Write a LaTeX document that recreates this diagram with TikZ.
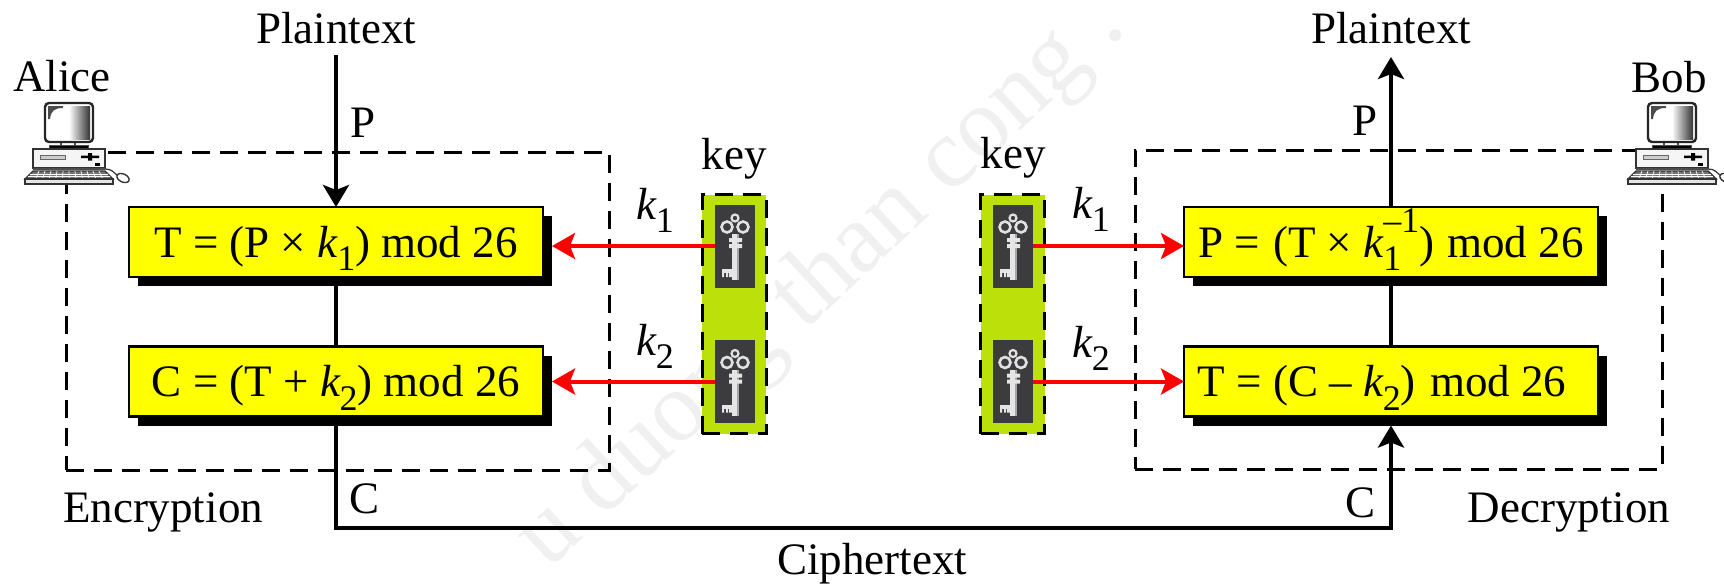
\documentclass[tikz,border=0pt]{standalone}
\usepackage{fontspec}
\setmainfont{Liberation Serif}
\usetikzlibrary{arrows.meta,shadows}
\definecolor{boxyellow}{RGB}{255,255,0}
\definecolor{keygreen}{RGB}{188,224,10}
\definecolor{keydark}{RGB}{60,60,62}
\definecolor{wmgray}{RGB}{240,240,240}
\newcommand{\kk}[1]{\textit{k}\kern-0.02em\raisebox{-0.3em}{\fontsize{18pt}{20pt}\selectfont #1}}
\newcommand{\kinv}{\textit{k}\kern-0.02em\raisebox{-0.3em}{\rlap{\fontsize{18pt}{20pt}\selectfont 1}}\raisebox{0.55em}{\fontsize{18pt}{20pt}\selectfont –1}}
\tikzset{
  lab/.style={font=\fontsize{22.5pt}{26pt}\selectfont,inner sep=0pt,outer sep=0pt,anchor=base},
  formula/.style={draw=black,line width=1.4pt,fill=boxyellow,minimum width=207pt,
    inner xsep=0pt,inner ysep=0pt,outer sep=0pt,text height=25pt,text depth=10pt,
    font=\fontsize{22.5pt}{26pt}\selectfont,
    general shadow={fill=black,shadow xshift=4.5pt,shadow yshift=-4.5pt}},
  frame/.style={draw=black,line width=1.5pt,dash pattern=on 9pt off 5pt,anchor=north west,inner sep=0pt,outer sep=0pt},
  keybar/.style={draw=black,fill=keygreen,line width=1.5pt,dash pattern=on 9pt off 5pt,
    minimum width=32pt,minimum height=119.5pt,inner sep=0pt,outer sep=0pt},
  panel/.style={fill=keydark,minimum width=20pt,minimum height=41.5pt,inner sep=0pt,outer sep=0pt},
  flow/.style={line width=2.2pt,-{Stealth[length=11pt,width=13pt,inset=2.5pt]}},
  plain/.style={line width=2.2pt},
  redflow/.style={draw=red,line width=2pt,-{Stealth[length=11.5pt,width=13pt,inset=2.5pt]}},
}
% key icon around a panel centre
\newcommand{\keyicon}[2]{%
  \begin{scope}[shift={(#1,#2)}]
    \fill[black!10] (-3,-12) rectangle (4,34);
    \fill[black!35] (1.5,-12) rectangle (4,34);
    \fill[black!10] (-13,23) rectangle (-3,27);
    \fill[black!10] (-13,27) rectangle (-11,31) (-9,27) rectangle (-7,31) (-6,27) rectangle (-3,31);
    \fill[black!10] (-6,-8) rectangle (7,-4) (-6,-2) rectangle (7,2);
    \draw[black!12,line width=1.3pt] (-8,-19) circle[radius=5.5] (8,-19) circle[radius=5.5];
    \draw[black!12,line width=1.1pt] (0,-28) circle[radius=3.5];
  \end{scope}}
% desktop computer
\newcommand{\computer}[1]{%
  \begin{scope}[shift={(#1,0)}]
    \fill[white] (33,146) rectangle (105,170) (25,170) rectangle (113,184);
    \draw[black!70,line width=.9pt,fill=white] (50,146) rectangle (88,150);
    \fill[black] (50,146) rectangle (88,150);
    \draw[black!70,line width=.7pt] (61,141) -- (61,146) (75,141) -- (75,146);
    \draw[black!85,line width=1.2pt,rounded corners=2pt,fill=white] (45,103) rectangle (93,142);
    \shade[left color=white,right color=black!80,middle color=white] (48,106) rectangle (90,139);
    \fill[black!70] (48,106) -- (63,106) -- (63,108) .. controls (54,108) and (51,111) .. (50,119) -- (48,119) -- cycle;
    \draw[black!80,line width=.8pt,fill=white!96!black] (33,149) rectangle (105,168);
    \draw[black!60,line width=.5pt,fill=black!20] (40,155) rectangle (65,159);
    \fill[black] (81,155.5) rectangle (99,158) (88,153) rectangle (92,160.5);
    \fill[black] (95,163) rectangle (100,166);
    \fill[black!70] (33,168) rectangle (105,170);
    \draw[black!80,line width=.7pt,fill=black!55] (33,171) -- (105,171) -- (113,179) -- (25,179) -- cycle;
    \foreach \i in {1,...,11} \draw[white,line width=.35pt] (33+6*\i,171) -- (29+6.7*\i,179);
    \draw[white,line width=.35pt] (30,174) -- (108,174) (28,176.5) -- (110,176.5);
    \draw[black!80,line width=.7pt,fill=black!10] (25,179) rectangle (113,184);
    \draw[black!80,line width=.6pt] (105,169) .. controls (112,169) and (113,172) .. (118,176);
    \draw[black!80,line width=.7pt,fill=white,rotate around={-25:(123,178)}] (123,178) ellipse[x radius=6.5,y radius=4];
  \end{scope}}
\begin{document}
\begin{tikzpicture}[x=0.5pt,y=-0.5pt]
\useasboundingbox (0,0) rectangle (1724,585);
\begin{scope}
  \clip (0,0) rectangle (1724,585);
  \fill[white] (0,0) rectangle (1724,585);
  \node[rotate=43,anchor=base east,text=wmgray,inner sep=0pt,font=\fontsize{50pt}{56pt}\selectfont] (mark) at (1128,30) {u duong than cong .};
\end{scope}

% dashed frames
\node[frame,minimum width=271.5pt,minimum height=159pt] (encframe) at (66,152) {};
\node[frame,minimum width=263.5pt,minimum height=159.5pt] (decframe) at (1135,150) {};
\computer{0}
\computer{1603}

% formula boxes
\node[formula] (enc1) at (336,242) {T = (P × \kk{1}) mod 26};
\node[formula] (enc2) at (336,381.5) {C = (T + \kk{2}) mod 26};
\node[formula] (dec1) at (1391,242) {P =\hspace{1pt} (T × \kinv)\hspace{1pt} mod 26};
\node[formula] (dec2) at (1391,381.5) {T = (C – \kk{2})\hspace{1.5pt} mod 26\hspace*{9pt}};

% key bars
\node[keybar] (lbar) at (734,314) {};
\node[keybar] (rbar) at (1012.5,314) {};
\node[panel] (lk1) at (735,246) {};
\node[panel] (lk2) at (735,381.5) {};
\node[panel] (rk1) at (1013,246) {};
\node[panel] (rk2) at (1013,381.5) {};
\keyicon{735}{246}\keyicon{735}{381.5}\keyicon{1013}{246}\keyicon{1013}{381.5}

% labels
\node[lab] (pt1) at (336,43) {Plaintext};
\node[lab] (pt2) at (1391,43) {Plaintext};
\node[lab] (alice) at (62,91) {Alice};
\node[lab] (bob) at (1669,92) {Bob};
\node[lab] (p1) at (363,137) {P};
\node[lab] (p2) at (1365,135) {P};
\node[lab] (c1) at (365,513) {C};
\node[lab] (c2) at (1360,517) {C};
\node[lab] (encl) at (163,522) {Encryption};
\node[lab] (decl) at (1569,522) {Decryption};
\node[lab] (ct) at (872,574) {Ciphertext};
\node[lab] (keyl) at (734,169) {key};
\node[lab] (keyr) at (1013,168) {key};
\node[lab] (lk1l) at (655,219) {\kk{1}};
\node[lab] (lk2l) at (655,355) {\kk{2}};
\node[lab] (rk1l) at (1091,218) {\kk{1}};
\node[lab] (rk2l) at (1091,357) {\kk{2}};

% connectors
\coordinate (ptin) at (336,55);
\coordinate (ptout) at (1391,57);
\coordinate (cbase1) at (336,528);
\coordinate (cbase2) at (1391,528);
\draw[flow] (ptin) -- (enc1.north);
\draw[plain] (enc1.south) -- (enc2.north);
\draw[flow] (enc2.south) -- (cbase1) -- (cbase2) -- ([yshift=-4.5pt]dec2.south);
\draw[plain] (dec2.north) -- (dec1.south);
\draw[flow] (dec1.north) -- (ptout);
\draw[redflow] (lk1.west) -- ([xshift=4.5pt]enc1.east |- lk1.west);
\draw[redflow] (lk2.west) -- ([xshift=4.5pt]enc2.east |- lk2.west);
\draw[redflow] (rk1.east) -- (rk1.east -| dec1.west);
\draw[redflow] (rk2.east) -- (rk2.east -| dec2.west);
\end{tikzpicture}
\end{document}
